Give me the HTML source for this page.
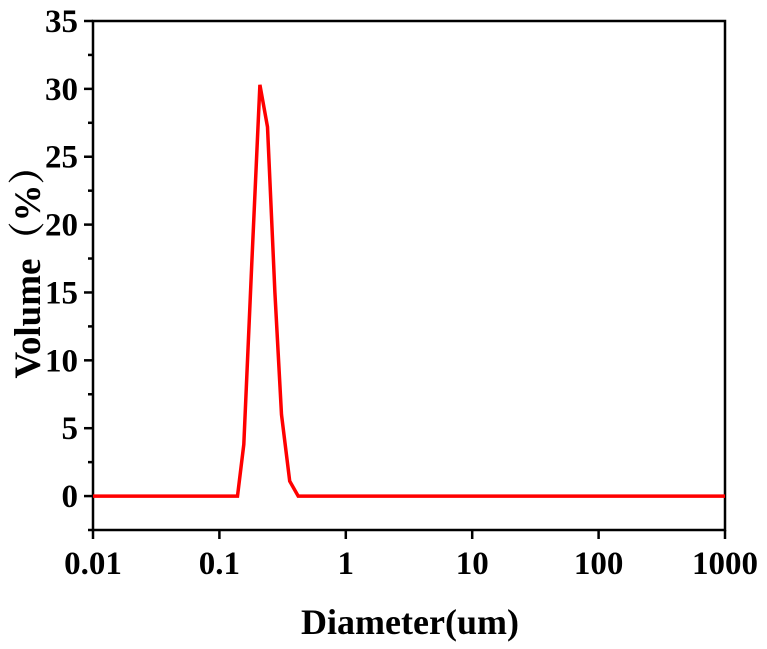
<!DOCTYPE html>
<html><head><meta charset="utf-8"><style>
html,body{margin:0;padding:0;background:#fff;}
svg{display:block;}
text{font-family:"Liberation Serif","Noto Serif CJK SC",serif;font-weight:bold;fill:#000;}
</style></head><body>
<svg id="chart" width="767" height="649" viewBox="0 0 767 649" xmlns="http://www.w3.org/2000/svg"></svg>
<script>
const diameters = [0.01,0.1,0.139,0.156,0.18,0.209,0.24,0.275,0.31,0.36,0.42,1,10,100,1000];
const volumes   = [0,0,0,3.8,17,30.3,27.2,15,6,1.1,0,0,0,0,0];
const xTicks = [0.01,0.1,1,10,100,1000];
const xTickLabels = ["0.01","0.1","1","10","100","1000"];
const yTicks = [0,5,10,15,20,25,30,35];
const yTickLabels = ["0","5","10","15","20","25","30","35"];
const yMinor = [2.5,7.5,12.5,17.5,22.5,27.5,32.5,-2.5];

const L=93,R=725,T=21,B=530;
const yMin=-2.5,yMax=35;
function xs(v){return L+(Math.log10(v)+2)/5*(R-L);}
function ys(v){return B-(v-yMin)/(yMax-yMin)*(B-T);}
const svg=document.getElementById('chart');
const NS="http://www.w3.org/2000/svg";
function mk(tag,attrs,parent){const e=document.createElementNS(NS,tag);for(const k in attrs)e.setAttribute(k,attrs[k]);(parent||svg).appendChild(e);return e;}

const frame=mk('rect',{x:L,y:T,width:R-L,height:B-T,fill:'none',stroke:'#000','stroke-width':2.5});



yTicks.forEach((v,i)=>{
  const t=mk('line',{x1:L-9,x2:L,y1:ys(v),y2:ys(v),stroke:'#000','stroke-width':2.5});
  
  
  const lb=mk('text',{x:L-15,y:ys(v)+11,'text-anchor':'end','font-size':33});
  lb.textContent=yTickLabels[i];
  
  
});
yMinor.forEach(v=>{
  const t=mk('line',{x1:L-5,x2:L,y1:ys(v),y2:ys(v),stroke:'#000','stroke-width':2.5});
  
  
});
xTicks.forEach((v,i)=>{
  const t=mk('line',{x1:xs(v),x2:xs(v),y1:B,y2:B+9,stroke:'#000','stroke-width':2.5});
  
  
  const lb=mk('text',{x:xs(v),y:B+44,'text-anchor':'middle','font-size':33});
  lb.textContent=xTickLabels[i];
  
  
});

const pts=diameters.map((d,i)=>xs(d).toFixed(1)+','+ys(volumes[i]).toFixed(1)).join(' ');
const line=mk('polyline',{points:pts,fill:'none',stroke:'#ff0000','stroke-width':3.5,'stroke-linejoin':'miter'});



const xt=mk('text',{x:410,y:634,'text-anchor':'middle','font-size':36});
xt.textContent='Diameter(um)';



const yt=mk('text',{x:0,y:0,'text-anchor':'middle','font-size':37,transform:'translate(40,263) rotate(-90)'});
yt.textContent='Volume（%）';


</script>
</body></html>
